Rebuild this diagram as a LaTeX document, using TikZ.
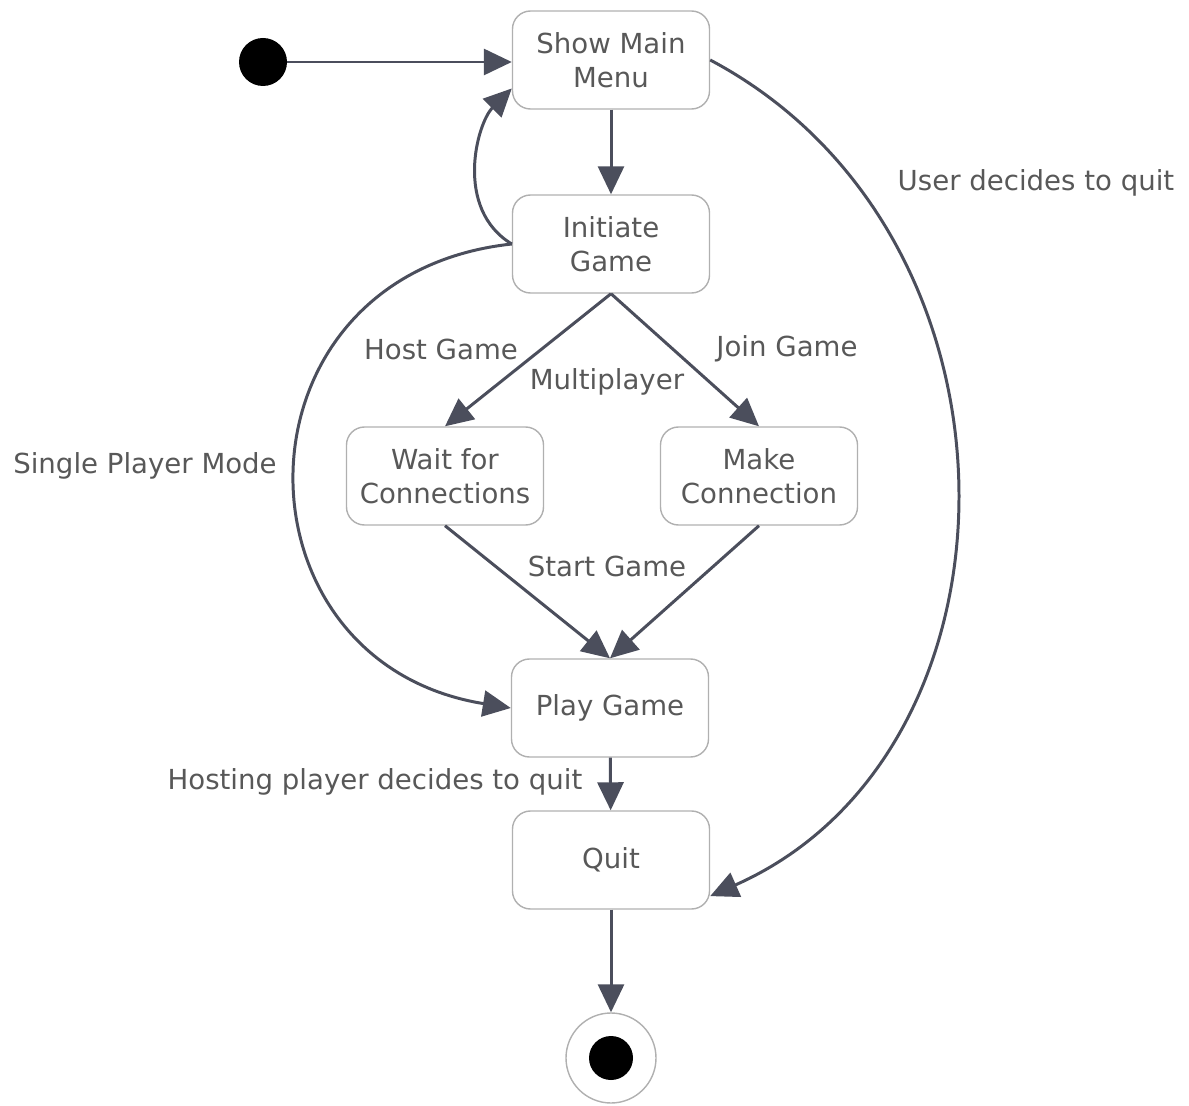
\documentclass[tikz,border=0pt]{standalone}
\usepackage{fontspec}
\setmainfont{DejaVu Sans}
\usepackage{tikz}
\usetikzlibrary{arrows.meta}
\definecolor{flowgray}{RGB}{75,78,92}
\definecolor{boxgray}{RGB}{176,176,176}
\definecolor{txtgray}{RGB}{88,88,88}

\begin{document}
\begin{tikzpicture}[
  state/.style={draw=boxgray, line width=0.8pt, rounded corners=0.36cm, minimum width=3.94cm, minimum height=1.96cm, align=center, text=txtgray},
  lbl/.style={text=txtgray},
  flow/.style={draw=flowgray, line width=1.7pt, -{Triangle[length=0.56cm,width=0.52cm]}},
  every node/.style={font=\fontsize{15.7pt}{19.4pt}\selectfont}]
\useasboundingbox (0,0) rectangle (23.78,-22.12);
\node[circle, fill=black, minimum size=0.96cm, inner sep=0pt] (init) at (5.26,-1.24) {};
\node[state] (menu) at (12.22,-1.2) {Show Main\\Menu};
\node[state] (initiate) at (12.22,-4.88) {Initiate\\Game};
\node[state] (wait) at (8.9,-9.52) {Wait for\\Connections};
\node[state] (make) at (15.18,-9.52) {Make\\Connection};
\node[state] (play) at (12.2,-14.16) {Play Game};
\node[state] (quit) at (12.22,-17.2) {Quit};
\node[circle, draw=boxgray, line width=0.8pt, minimum size=1.8cm, inner sep=0pt] (final) at (12.22,-21.16) {};
\node[circle, fill=black, minimum size=0.88cm, inner sep=0pt] at (final) {};
\node[lbl] (single) at (2.9,-9.32) {Single Player Mode};
\node[lbl] (host) at (8.82,-6.98) {Host Game};
\node[lbl] (multi) at (12.14,-7.64) {Multiplayer};
\node[lbl] (join) at (15.74,-6.98) {Join Game};
\node[lbl] (startg) at (12.14,-11.32) {Start Game};
\node[lbl] (hostquit) at (7.5,-15.64) {Hosting player decides to quit};
\node[lbl] (userquit) at (20.72,-3.66) {User decides to quit};
\draw[flow] (init) -- (menu.west |- init);
\draw[flow] (menu) -- (initiate);
\draw[flow] (initiate.west) .. controls +(-1.16,0.7) and +(-0.7,-0.7) .. (menu.196);
\draw[flow] (initiate.west) .. controls +(-5.74,-0.62) and +(-5.72,0.92) .. (play.west);
\draw[flow] (initiate.south) -- (wait.north);
\draw[flow] (initiate.south) -- (make.north);
\draw[flow] (wait.south) -- (play.north);
\draw[flow] (make.south) -- (play.north);
\draw[flow] (play) -- (quit);
\draw[flow] (quit) -- (final);
\draw[flow] (menu.east) .. controls +(6.6,-3.5) and +(6.5,2.88) .. (quit.340);
\end{tikzpicture}
\end{document}
